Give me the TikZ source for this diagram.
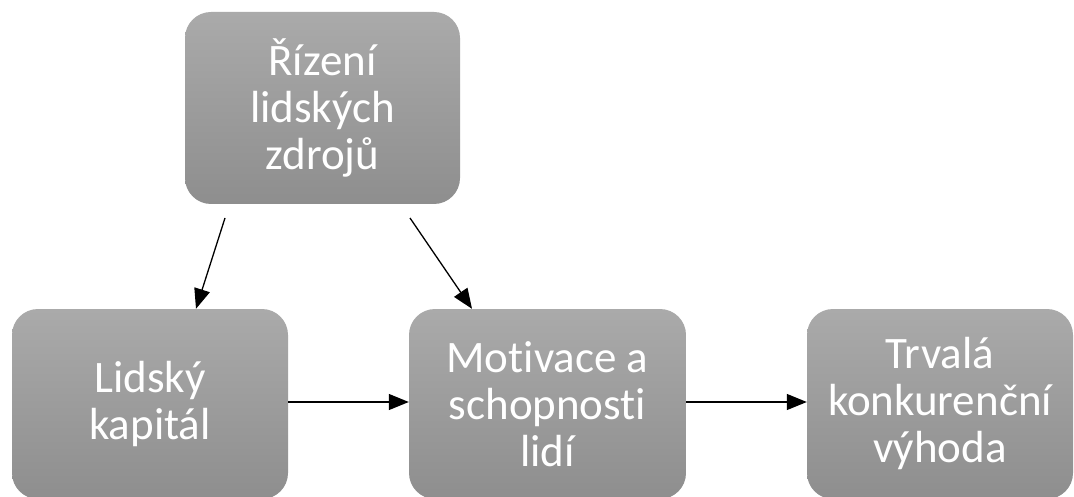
\documentclass[tikz,border=0pt]{standalone}
\usepackage{fontspec}
\setmainfont[Ligatures={NoCommon,NoRare,NoDiscretionary}]{Carlito}
\usetikzlibrary{arrows.meta,calc}
\definecolor{boxtop}{HTML}{AAAAAA}
\definecolor{boxbot}{HTML}{8E8E8E}
\tikzset{
  gbox/.style={rectangle, rounded corners=26pt, top color=boxtop, bottom color=boxbot,
    draw=none, text=white, align=center, inner sep=0pt,
    font=\fontsize{45}{47}\selectfont},
  arr/.style={draw=black, line width=1.3pt, -{Triangle[length=20pt,width=16pt]}}
}
\begin{document}
\begin{tikzpicture}[x=1pt,y=-1pt]
\useasboundingbox (0,0) rectangle (1074,497);
\fill[white] (0,0) rectangle (1074,497);
\node[gbox, minimum width=275pt, minimum height=192pt] (top) at (322.5,108) {Řízení\\lidských\\zdrojů};
\node[gbox, minimum width=276pt, minimum height=190pt] (lk) at (150,404) {Lidský\\kapitál};
\node[gbox, minimum width=277pt, minimum height=190pt] (mot) at (547.5,404) {Motivace a\\schopnosti\\lidí};
\node[gbox, minimum width=266pt, minimum height=190pt] (tkv) at (940,404) {Trvalá\\konkurenční\\výhoda};
\coordinate (s1) at (225,218);
\coordinate (s2) at (410,218);
\draw[arr] (s1) -- ($(lk.north)+(46,0)$);
\draw[arr] (s2) -- ($(mot.north)+(-75.5,0)$);
\draw[arr] ($(lk.east)+(0,-2)$) -- ($(mot.west)+(0,-2)$);
\draw[arr] ($(mot.east)+(0,-2)$) -- ($(tkv.west)+(0,-2)$);
\end{tikzpicture}
\end{document}
